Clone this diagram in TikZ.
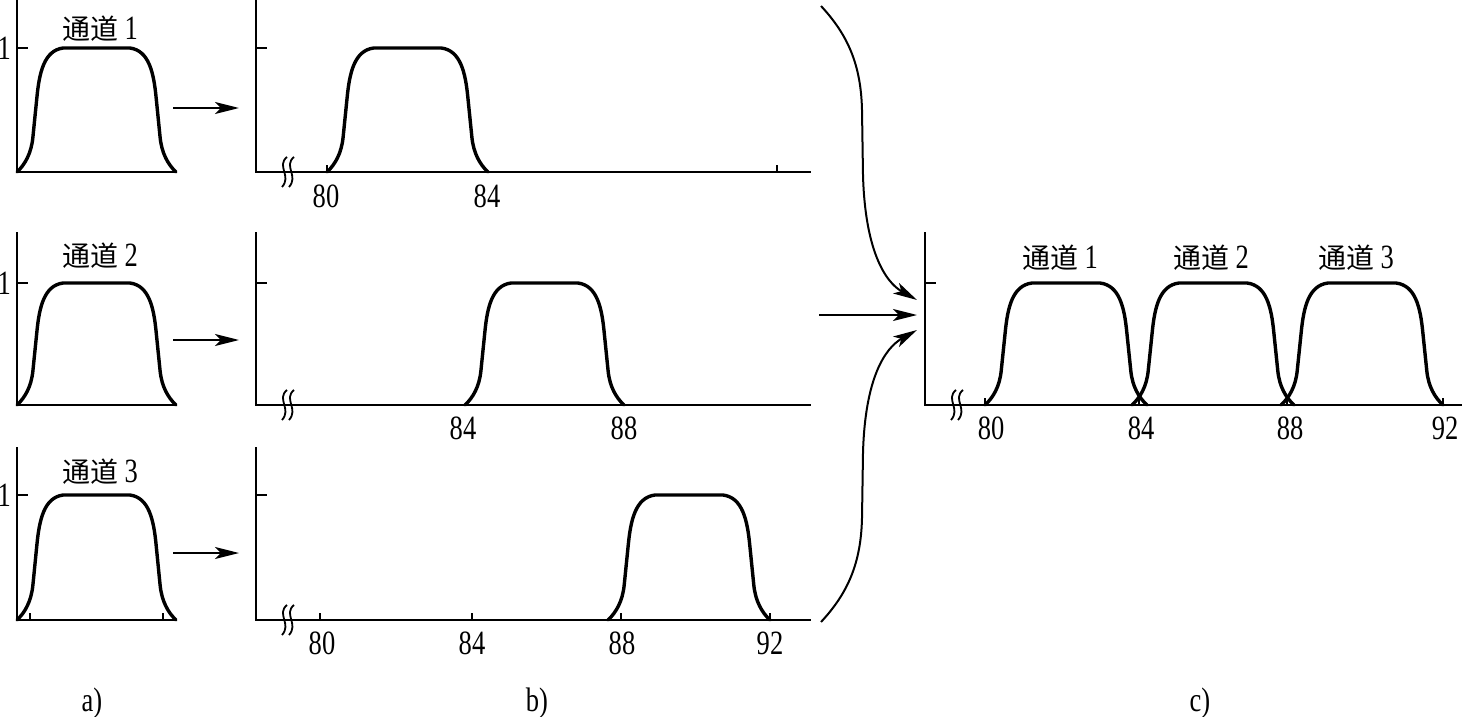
\documentclass[tikz,border=0pt]{standalone}
\usepackage{fontspec}
\setmainfont{Liberation Serif}[FakeStretch=0.78]
\newfontfamily\cjk{Noto Sans CJK SC}
\usetikzlibrary{arrows.meta}
\tikzset{
  axisline/.style={line width=2pt},
  bandline/.style={line width=3.4pt, line join=round, line cap=round},
  lbl/.style={font=\fontsize{34}{36}\selectfont, inner sep=0pt},
  flow/.style={line width=2pt, -{Stealth[length=24pt,width=12pt,inset=6pt]}},
}
\newcommand\cj[1]{{\fontsize{28}{30}\selectfont\cjk #1}}
% band-pass curve: x0, x1, base, top
\newcommand\bandpass[4]{%
  \pgfmathsetmacro\bpw{#2-#1}%
  \pgfmathsetmacro\bph{#4-#3}%
  \begin{scope}[shift={(#1,#3)}, xscale=\bpw, yscale=\bph]
    \draw[bandline] (0,0) .. controls (0.05,0.06) and (0.09,0.15) .. (0.1,0.28)
      -- (0.125,0.6) .. controls (0.14,0.8) and (0.17,0.98) .. (0.29,1)
      -- (0.71,1) .. controls (0.83,0.98) and (0.86,0.8) .. (0.875,0.6)
      -- (0.9,0.28) .. controls (0.91,0.15) and (0.95,0.06) .. (1,0);
  \end{scope}}
% axes: x, top, base, right end, tick y
\newcommand\axes[5]{%
  \draw[axisline] (#1,#2) -- (#1,#3) -- (#4,#3);
  \draw[axisline] (#1,#5) -- ++(11,0);}
% small tick on base line: x, base
\newcommand\btick[2]{\draw[axisline] (#1,#2) -- ++(0,-7);}
% axis break: x, base
\newcommand\brk[2]{%
  \foreach \dx in {0,7}{
    \draw[line width=1.8pt] (#1+\dx+3,#2-15) .. controls (#1+\dx-8,#2-6) and (#1+\dx+8,#2+4) .. (#1+\dx-2,#2+15);}}
\begin{document}
\begin{tikzpicture}[x=1pt,y=-1pt]
\useasboundingbox (0,0) rectangle (1475,717);

% ---------- panel a ----------
\axes{17}{0}{172}{176}{48}
\axes{17}{232}{405}{176}{283}
\axes{17}{447}{620}{176}{495}
\btick{30}{620}\btick{163}{620}
\bandpass{17}{176}{172}{48}
\bandpass{17}{176}{405}{283}
\bandpass{17}{176}{620}{495}
\node[lbl, anchor=east] (a1y) at (11,48) {1};
\node[lbl, anchor=east] (a2y) at (11,283) {1};
\node[lbl, anchor=east] (a3y) at (11,495) {1};
\node[lbl] (a1t) at (100,29) {\cj{通道} 1};
\node[lbl] (a2t) at (100,256) {\cj{通道} 2};
\node[lbl] (a3t) at (100,472) {\cj{通道} 3};

% arrows a -> b
\coordinate (p1s) at (173,108); \coordinate (p1e) at (239,108);
\coordinate (p2s) at (173,340); \coordinate (p2e) at (239,340);
\coordinate (p3s) at (173,553); \coordinate (p3e) at (239,553);
\draw[flow] (p1s) -- (p1e);
\draw[flow] (p2s) -- (p2e);
\draw[flow] (p3s) -- (p3e);

% ---------- panel b ----------
\axes{256}{0}{172}{811}{48}
\axes{256}{232}{405}{811}{283}
\axes{256}{447}{620}{811}{495}
\brk{284}{172}\brk{284}{405}\brk{284}{620}
\btick{327}{172}\btick{777}{172}
\btick{320}{620}\btick{472}{620}\btick{621}{620}\btick{770}{620}
\bandpass{327}{488}{172}{48}
\bandpass{465}{624}{405}{283}
\bandpass{608}{770}{620}{495}
\node[lbl] (b1n80) at (326,196) {80};
\node[lbl] (b1n84) at (487,196) {84};
\node[lbl] (b2n84) at (463,428) {84};
\node[lbl] (b2n88) at (624,428) {88};
\node[lbl] (b3n80) at (322,643) {80};
\node[lbl] (b3n84) at (472,643) {84};
\node[lbl] (b3n88) at (622,643) {88};
\node[lbl] (b3n92) at (770,643) {92};

% arrows b -> c
\coordinate (q1s) at (821,6);   \coordinate (q1e) at (917,300);
\coordinate (q2s) at (819,315); \coordinate (q2e) at (917,315);
\coordinate (q3s) at (821,622); \coordinate (q3e) at (917,330);
\draw[flow] (q1s) .. controls (848,35) and (861,65) .. (862,110)
  -- (863,175) .. controls (865,250) and (885,282) .. (q1e);
\draw[flow] (q2s) -- (q2e);
\draw[flow] (q3s) .. controls (848,593) and (861,563) .. (862,518)
  -- (863,453) .. controls (865,378) and (885,348) .. (q3e);

% ---------- panel c ----------
\axes{925}{232}{405}{1462}{283}
\brk{953}{405}
\btick{985}{405}\btick{1139}{405}\btick{1287}{405}\btick{1443}{405}
\bandpass{985}{1147}{405}{283}
\bandpass{1132}{1294}{405}{283}
\bandpass{1281}{1443}{405}{283}
\node[lbl] (ct1) at (1060,258) {\cj{通道} 1};
\node[lbl] (ct2) at (1211,258) {\cj{通道} 2};
\node[lbl] (ct3) at (1356,258) {\cj{通道} 3};
\node[lbl] (cn80) at (991,428) {80};
\node[lbl] (cn84) at (1141,428) {84};
\node[lbl] (cn88) at (1290,428) {88};
\node[lbl] (cn92) at (1445,428) {92};

% sub-figure labels
\node[lbl] (la) at (92,703) {a)};
\node[lbl] (lb) at (537,703) {b)};
\node[lbl] (lc) at (1200,703) {c)};
\end{tikzpicture}
\end{document}
